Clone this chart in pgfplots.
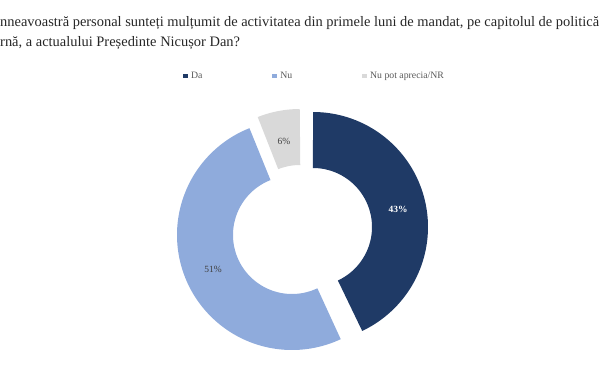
\documentclass[border=0pt]{standalone}
\usepackage{pgfplots}
\pgfplotsset{compat=1.18}
\usepackage{fontspec}
\setmainfont{Liberation Serif}
\definecolor{daC}{HTML}{1F3A66}
\definecolor{nuC}{HTML}{8FABDC}
\definecolor{nrC}{HTML}{D9D9D9}
\definecolor{txtC}{HTML}{404040}
\definecolor{legC}{HTML}{595959}
\def\Rmid{87}
\begin{document}
\begin{tikzpicture}
\begin{axis}[
  width=600bp, height=375bp, scale only axis,
  xmin=0, xmax=600, ymin=0, ymax=375, y dir=reverse,
  axis lines=none, clip=false,
  legend style={at={(axis cs:183,76)}, anchor=west, draw=none, fill=none,
    inner sep=0pt, font=\fontsize{9.8}{10}\selectfont, text=legC,
    /tikz/every odd column/.append style={column sep=1.5bp},
    /tikz/every even column/.append style={column sep=68bp}},
  legend columns=3,
]
% Da 43%: 90 -> -64.8
\addplot[draw=daC, line width=56bp, domain=-64.8:90, samples=150,
  legend image code/.code={\path[fill=daC, draw=none, line width=0pt] (0bp,-2.2bp) rectangle (4.4bp,2.2bp);}]
  ({313+\Rmid*cos(x)}, {227-\Rmid*sin(x)});
\addlegendentry{Da}
% Nu 51%: -64.8 -> -248.4
\addplot[draw=nuC, line width=56bp, domain=-248.4:-64.8, samples=180,
  legend image code/.code={\path[fill=nuC, draw=none, line width=0pt] (0bp,-2.2bp) rectangle (4.4bp,2.2bp);}]
  ({292+\Rmid*cos(x)}, {235-\Rmid*sin(x)});
\addlegendentry{Nu}
% NR 6%: 111.6 -> 90
\addplot[draw=nrC, line width=56bp, domain=90:111.6, samples=40,
  legend image code/.code={\path[fill=nrC, draw=none, line width=0pt] (0bp,-2.2bp) rectangle (4.4bp,2.2bp);}]
  ({300+\Rmid*cos(x)}, {224-\Rmid*sin(x)});
\addlegendentry{Nu pot aprecia/NR}

\node[font=\fontsize{9.5}{10}\selectfont\bfseries, text=white] at (axis cs:398,209) {43\%};
\node[font=\fontsize{9.5}{10}\selectfont, text=txtC] at (axis cs:213,269) {51\%};
\node[font=\fontsize{9.5}{10}\selectfont, text=txtC] at (axis cs:284,141) {6\%};

\node[anchor=base west, inner sep=0pt, font=\fontsize{14.5}{16}\selectfont, text=black!85] at (axis cs:0,27)
  {nneavoastră personal sunteți mulțumit de activitatea din primele luni de mandat, pe capitolul de politică};
\node[anchor=base west, inner sep=0pt, font=\fontsize{14.5}{16}\selectfont, text=black!85] at (axis cs:0,46)
  {rnă, a actualului Președinte Nicușor Dan?};
\end{axis}
\pgfresetboundingbox
\path[use as bounding box] (0,0) rectangle (600bp,375bp);
\end{tikzpicture}
\end{document}
